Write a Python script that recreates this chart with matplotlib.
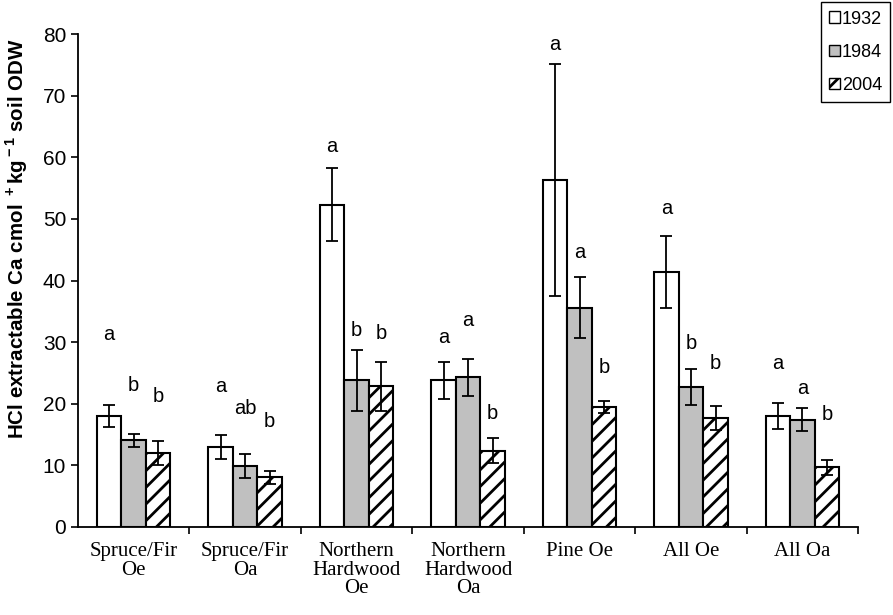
import matplotlib.pyplot as plt
import numpy as np
from matplotlib.patches import Patch

plt.rcParams['font.family'] = ['Liberation Sans', 'DejaVu Sans']
plt.rcParams['mathtext.fontset'] = 'custom'
plt.rcParams['mathtext.rm'] = 'Liberation Sans'
plt.rcParams['mathtext.bf'] = 'Liberation Sans:bold'
plt.rcParams['hatch.linewidth'] = 2.0

groups = ['Spruce/Fir\nOe', 'Spruce/Fir\nOa', 'Northern\nHardwood\nOe',
          'Northern\nHardwood\nOa', 'Pine Oe', 'All Oe', 'All Oa']
years = ['1932', '1984', '2004']

val_1932 = [18.0, 13.0, 52.3, 23.8, 56.3, 41.4, 18.0]
err_1932 = [1.8, 2.0, 5.9, 3.0, 18.8, 5.9, 2.1]
val_1984 = [14.1, 9.9, 23.8, 24.3, 35.6, 22.7, 17.4]
err_1984 = [1.05, 1.95, 4.9, 3.0, 4.9, 2.95, 1.9]
val_2004 = [12.0, 8.1, 22.8, 12.4, 19.5, 17.7, 9.7]
err_2004 = [1.95, 1.05, 3.9, 2.05, 0.95, 1.95, 1.2]

# significance letters and their heights, per year
let_1932 = ['a', 'a', 'a', 'a', 'a', 'a', 'a']
let_1984 = ['b', 'ab', 'b', 'a', 'a', 'b', 'a']
let_2004 = ['b', 'b', 'b', 'b', 'b', 'b', 'b']
lety_1932 = [31.2, 22.8, 61.7, 30.8, 78.3, 51.7, 26.6]
lety_1984 = [22.9, 19.3, 31.9, 33.5, 44.5, 29.7, 22.4]
lety_2004 = [21.2, 17.1, 31.4, 18.4, 25.9, 26.6, 18.3]

fig = plt.figure(figsize=(8.93, 6.15), dpi=100)
ax = fig.add_axes([0.0873, 0.1431, 0.8737, 0.8016])

x = np.arange(len(groups))
w = 0.22
series = [
    (val_1932, err_1932, let_1932, lety_1932, 'white', None),
    (val_1984, err_1984, let_1984, lety_1984, '#c0c0c0', None),
    (val_2004, err_2004, let_2004, lety_2004, 'white', '//'),
]
for i, (vals, errs, lets, letys, col, hatch) in enumerate(series):
    pos = x + (i - 1) * w
    ax.bar(pos, vals, w, color=col, edgecolor='black', linewidth=1.5,
           hatch=hatch, zorder=2)
    ax.errorbar(pos, vals, yerr=errs, fmt='none', ecolor='black',
                elinewidth=1.3, capsize=4, capthick=1.3, zorder=3)
    for px, t, ty in zip(pos, lets, letys):
        ax.text(px, ty, t, ha='center', va='center', fontsize=14.5)

ax.set_xlim(-0.5, 6.5)
ax.set_ylim(0, 80)
ax.set_yticks(np.arange(0, 81, 10))
ax.tick_params(axis='y', labelsize=15, length=5, width=1.2, direction='out')
ax.set_xticks(x)
ax.set_xticklabels(groups, fontfamily='Liberation Serif', fontsize=15,
                   linespacing=0.95)
ax.tick_params(axis='x', which='major', length=0, pad=11)
ax.set_xticks(np.arange(0.5, 7, 1), minor=True)
ax.tick_params(axis='x', which='minor', length=5, width=1.2, direction='out')
for s in ['top', 'right']:
    ax.spines[s].set_visible(False)
for s in ['left', 'bottom']:
    ax.spines[s].set_linewidth(1.3)

ax.set_ylabel(r'HCl extractable Ca cmol $^{\bf +}$kg$^{\bf -1}$ soil ODW',
              fontsize=14.8, fontweight='bold')
ax.yaxis.set_label_coords(-0.061, 0.584)

handles = [Patch(facecolor='white', edgecolor='black', linewidth=1.0),
           Patch(facecolor='#c0c0c0', edgecolor='black', linewidth=1.0),
           Patch(facecolor='white', edgecolor='black', linewidth=1.0, hatch='//')]
leg = fig.legend(handles, years, loc='upper right', bbox_to_anchor=(0.997, 0.996),
                 fontsize=13, handlelength=0.6, handleheight=0.6,
                 handletextpad=0.1, borderpad=0.45, labelspacing=0.9,
                 borderaxespad=0, fancybox=False, framealpha=1)
leg.get_frame().set_edgecolor('black')
leg.get_frame().set_linewidth(1.0)

plt.savefig('out.png', dpi=100)
